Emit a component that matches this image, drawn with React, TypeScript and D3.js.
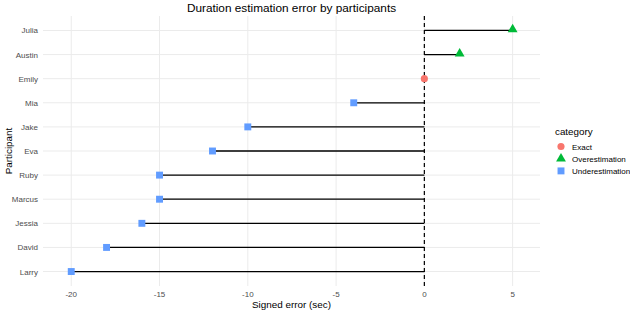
import React, { useEffect, useRef } from "react";
import * as d3 from "d3";

// participants, top to bottom
const participants = ["Julia", "Austin", "Emily", "Mia", "Jake", "Eva", "Ruby", "Marcus", "Jessia", "David", "Larry"];
// signed error in seconds
const errors = [5, 2, 0, -4, -10, -12, -15, -15, -16, -18, -20];
const categories = ["Exact", "Overestimation", "Underestimation"];
const categoryColors = ["#F8766D", "#00BA38", "#619CFF"];
const xTicks = [-20, -15, -10, -5, 0, 5];

const W = 630;
const H = 311;
const margin = { top: 16, right: 90, bottom: 25, left: 43 };
const FONT = "Liberation Sans, Arial, sans-serif";

const categoryOf = (v: number) => (v === 0 ? "Exact" : v > 0 ? "Overestimation" : "Underestimation");

const App = () => {
  const svgRef = useRef<SVGSVGElement>(null);

  useEffect(() => {
    const svg = d3.select(svgRef.current);
    svg.selectAll("*").remove();

    const x = d3.scaleLinear().domain([-21.6, 6.55]).range([margin.left, W - margin.right]);
    const y = d3.scalePoint().domain(participants).range([margin.top, H - margin.bottom]).padding(0.6);
    const color = d3.scaleOrdinal<string, string>().domain(categories).range(categoryColors);
    const shape = d3.scaleOrdinal<string, d3.SymbolType>()
      .domain(categories)
      .range([d3.symbolCircle, d3.symbolTriangle, d3.symbolSquare]);
    const symSize: Record<string, number> = { Exact: 40, Overestimation: 42, Underestimation: 48 };

    const [x0, x1] = x.range();
    const [y0, y1] = [margin.top, H - margin.bottom];

    // grid
    const grid = svg.append("g");
    grid.selectAll("line.v")
      .data(xTicks)
      .join("line")
      .attr("x1", d => x(d)).attr("x2", d => x(d))
      .attr("y1", y0).attr("y2", y1)
      .attr("stroke", "#EBEBEB").attr("stroke-width", 1);
    grid.selectAll("line.h")
      .data(participants)
      .join("line")
      .attr("x1", x0).attr("x2", x1)
      .attr("y1", d => y(d)!).attr("y2", d => y(d)!)
      .attr("stroke", "#EBEBEB").attr("stroke-width", 1);

    // zero reference line
    svg.append("line")
      .attr("x1", x(0)).attr("x2", x(0))
      .attr("y1", y0).attr("y2", y1)
      .attr("stroke", "#000").attr("stroke-width", 1.2)
      .attr("stroke-dasharray", "4,3");

    const rows = participants.map((p, i) => ({ p, v: errors[i], c: categoryOf(errors[i]) }));

    // stems
    svg.append("g")
      .selectAll("line")
      .data(rows)
      .join("line")
      .attr("x1", x(0)).attr("x2", d => x(d.v))
      .attr("y1", d => y(d.p)!).attr("y2", d => y(d.p)!)
      .attr("stroke", "#000").attr("stroke-width", 1.3);

    // points
    svg.append("g")
      .selectAll("path")
      .data(rows)
      .join("path")
      .attr("transform", d => `translate(${x(d.v)},${y(d.p)! + (d.c === "Overestimation" ? -1 : 0)})`)
      .attr("d", d => d3.symbol().type(shape(d.c)).size(symSize[d.c])()!)
      .attr("fill", d => color(d.c));

    // x axis labels
    svg.append("g")
      .selectAll("text")
      .data(xTicks)
      .join("text")
      .attr("x", d => x(d)).attr("y", y1 + 11)
      .attr("text-anchor", "middle")
      .attr("font-family", FONT).attr("font-size", 8).attr("fill", "#4D4D4D")
      .text(d => (d < 0 ? "-" + Math.abs(d) : String(d)));

    // y axis labels
    svg.append("g")
      .selectAll("text")
      .data(participants)
      .join("text")
      .attr("x", x0 - 5).attr("y", d => y(d)! + 3)
      .attr("text-anchor", "end")
      .attr("font-family", FONT).attr("font-size", 8).attr("fill", "#4D4D4D")
      .text(d => d);

    const midX = (x0 + x1) / 2;
    svg.append("text")
      .attr("x", midX).attr("y", 11.5)
      .attr("text-anchor", "middle")
      .attr("font-family", FONT).attr("font-size", 11.8).attr("fill", "#000")
      .text("Duration estimation error by participants");

    svg.append("text")
      .attr("x", midX).attr("y", H - 3)
      .attr("text-anchor", "middle")
      .attr("font-family", FONT).attr("font-size", 9.9).attr("fill", "#000")
      .text("Signed error (sec)");

    svg.append("text")
      .attr("transform", `translate(12,${(y0 + y1) / 2}) rotate(-90)`)
      .attr("text-anchor", "middle")
      .attr("font-family", FONT).attr("font-size", 9.9).attr("fill", "#000")
      .text("Participant");

    // legend
    const lg = svg.append("g").attr("transform", "translate(555,135)");
    lg.append("text")
      .attr("x", 0).attr("y", 0)
      .attr("font-family", FONT).attr("font-size", 9.8).attr("fill", "#000")
      .text("category");
    const item = lg.selectAll("g.item")
      .data(categories)
      .join("g")
      .attr("transform", (_, i) => `translate(6,${11.5 + i * 12.2})`);
    item.append("path")
      .attr("d", d => d3.symbol().type(shape(d)).size(symSize[d])()!)
      .attr("fill", d => color(d));
    item.append("text")
      .attr("x", 11).attr("y", 3)
      .attr("font-family", FONT).attr("font-size", 8).attr("fill", "#000")
      .text(d => d);
  }, []);

  return (
    <svg
      ref={svgRef}
      width={W}
      height={H}
      style={{ position: "absolute", left: 0, top: 0, display: "block", background: "#fff" }}
    />
  );
};

export default App;
